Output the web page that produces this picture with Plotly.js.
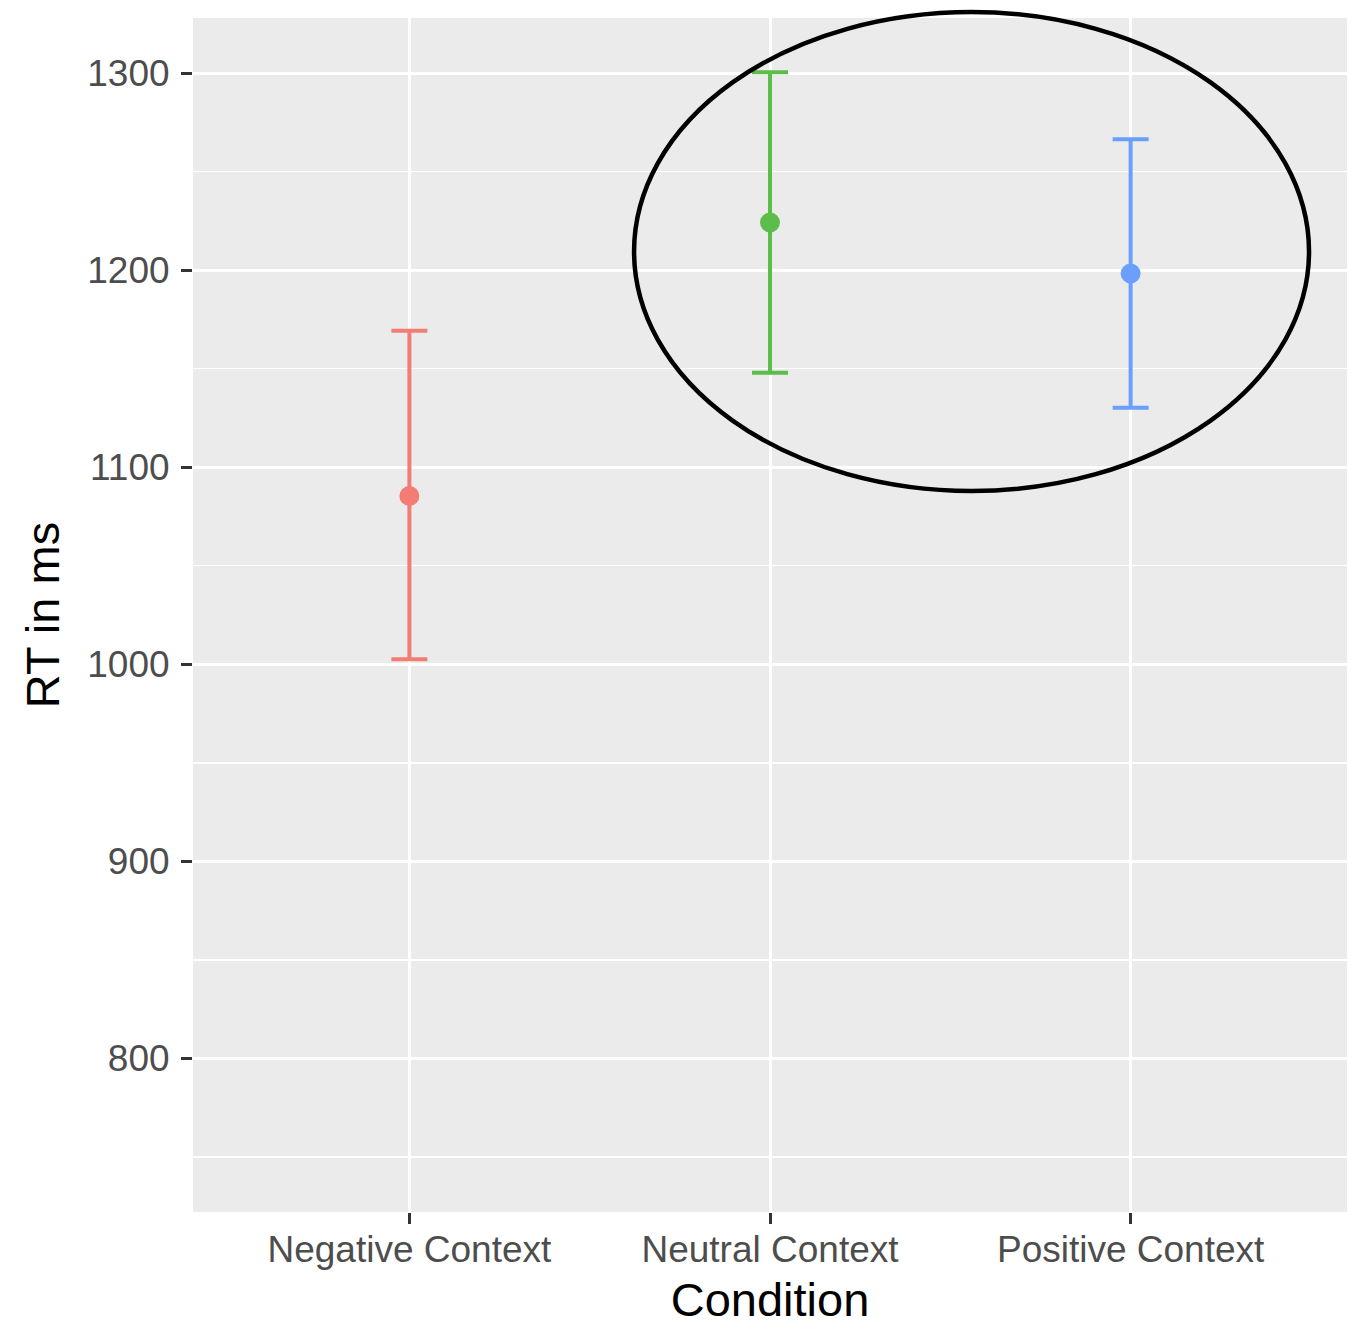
<!DOCTYPE html>
<html>
<head>
<meta charset="utf-8">
<script src="https://cdn.plot.ly/plotly-3.0.1.min.js"></script>
<style>
  html, body { margin: 0; padding: 0; background: #ffffff; }
  #chart { width: 1362px; height: 1326px; }
</style>
</head>
<body>
<div id="chart"></div>
<script>
// ---- data ----
const conditions = ["Negative Context", "Neutral Context", "Positive Context"];
const meanRT     = [1085.4, 1224.2, 1198.3];
const upperRT    = [1169.3, 1300.5, 1266.4];
const lowerRT    = [1002.5, 1148.0, 1130.2];
const colors     = ["#F37C74", "#5CBD4A", "#6A9FFC"];
const yTickVals  = [800, 900, 1000, 1100, 1200, 1300];

const traces = conditions.map((c, i) => ({
  type: "scatter",
  mode: "markers",
  x: [c],
  y: [meanRT[i]],
  marker: { color: colors[i], size: 20 },
  error_y: {
    type: "data",
    symmetric: false,
    array: [upperRT[i] - meanRT[i]],
    arrayminus: [meanRT[i] - lowerRT[i]],
    color: colors[i],
    thickness: 4,
    width: 18
  },
  showlegend: false,
  hoverinfo: "x+y"
}));

const fontFam = "Liberation Sans, Arial, Helvetica, sans-serif";

const layout = {
  width: 1362,
  height: 1326,
  paper_bgcolor: "#ffffff",
  plot_bgcolor: "#EBEBEB",
  margin: { l: 193, r: 15, t: 18, b: 114 },
  font: { family: fontFam },
  showlegend: false,
  xaxis: {
    type: "category",
    categoryorder: "array",
    categoryarray: conditions,
    range: [-0.6, 2.6],
    showgrid: true,
    gridcolor: "#ffffff",
    gridwidth: 3,
    zeroline: false,
    showline: false,
    ticks: "outside",
    ticklen: 11,
    tickwidth: 3,
    tickcolor: "#333333",
    ticklabelstandoff: -6,
    tickfont: { size: 37, color: "#4D4D4D", family: fontFam },
    title: { text: "Condition", font: { size: 47, color: "#000000", family: fontFam }, standoff: 13 }
  },
  yaxis: {
    range: [722, 1328],
    tickvals: yTickVals,
    ticktext: yTickVals.map(String),
    showgrid: true,
    gridcolor: "#ffffff",
    gridwidth: 3,
    zeroline: false,
    showline: false,
    ticks: "outside",
    ticklen: 11,
    tickwidth: 3,
    tickcolor: "#333333",
    ticklabelstandoff: 4,
    tickfont: { size: 37, color: "#4D4D4D", family: fontFam },
    minor: { dtick: 50, tick0: 750, showgrid: true, gridcolor: "#ffffff", gridwidth: 1.5, ticks: "" },
    title: { text: "RT in ms", font: { size: 47, color: "#000000", family: fontFam }, standoff: 12 }
  },
  shapes: [{
    type: "circle",
    xref: "paper", yref: "paper",
    x0: 0.3822, x1: 0.9671,
    y0: 0.6039, y1: 1.005,
    line: { color: "#000000", width: 4.5 },
    fillcolor: "rgba(0,0,0,0)",
    layer: "above"
  }]
};

Plotly.newPlot("chart", traces, layout, { displayModeBar: false, staticPlot: true });
</script>
</body>
</html>
